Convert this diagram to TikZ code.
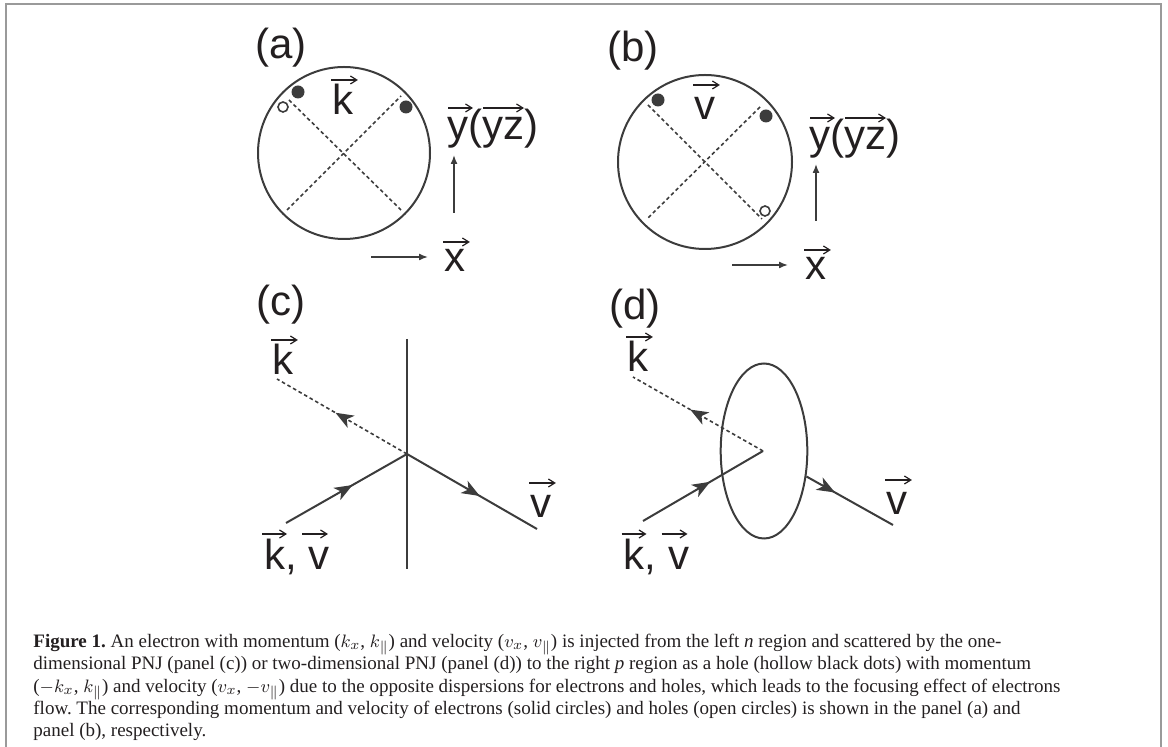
\documentclass[tikz,border=0pt]{standalone}
\usepackage{fontspec}
\setmainfont{Liberation Serif}
\setsansfont{Liberation Sans}
\usetikzlibrary{arrows.meta,decorations.markings,shapes.geometric}
\definecolor{lc}{HTML}{3C3C3C}
\definecolor{tc}{HTML}{231F20}
\definecolor{fc}{HTML}{9A9A9A}
\frenchspacing
\tikzset{
  line/.style={draw=lc, line width=1pt},
  dashline/.style={draw=lc, line width=0.8pt, dash pattern=on 1.8pt off 1.4pt},
  axis/.style={draw=lc, line width=0.75pt, -{Latex[length=4.5pt,width=3.5pt]}},
  vecarr/.style={draw=tc, line width=0.6pt, -{Straight Barb[length=3.2pt,width=4pt]}},
  midarrow/.style={postaction={decorate},decoration={markings, mark=at position #1 with {\arrow{Stealth[length=9pt,width=7pt,inset=2.5pt]}}}},
  lbl/.style={font=\sffamily\fontsize{21}{25}\selectfont, text=tc, inner sep=0pt},
  edot/.style={circle, fill=lc, inner sep=0pt, minimum size=6.5pt},
  hdot/.style={circle, draw=lc, line width=0.8pt, fill=white, inner sep=0pt, minimum size=5pt},
  frame/.style={draw=fc, line width=1pt},
}
\begin{document}
\begin{tikzpicture}[x=0.5pt,y=-0.5pt]
\useasboundingbox (0,0) rectangle (1168,747);
% frame
\coordinate (f1) at (6,747);
\coordinate (f2) at (6,4);
\coordinate (f3) at (1161,4);
\coordinate (f4) at (1161,747);
\draw[frame] (f1) -- (f2) -- (f3) -- (f4);

% ---------- panel (a)
\node[lbl] (pa) at (281,48) {(a)};
\node[circle, line, minimum size=86pt, inner sep=0pt] (ca) at (344,153) {};
\coordinate (a1) at (287,210);
\coordinate (a2) at (401,96);
\coordinate (a3) at (289,100);
\coordinate (a4) at (401,210);
\draw[dashline] (a1) -- (a2);
\draw[dashline] (a3) -- (a4);
\node[edot] (ad1) at (298,92) {};
\node[edot] (ad2) at (406,107) {};
\node[hdot] (ad3) at (283,107) {};
\node[lbl, anchor=base] (ak) at (343,115) {k};
\draw[vecarr] ([shift={(-1,-35)}]ak.base west) -- ([shift={(4,-35)}]ak.base east);
\node[lbl, anchor=base west] (ay) at (447,140) {y(yz)};
\draw[vecarr] ([shift={(1,-32)}]ay.base west) -- ([shift={(26,-32)}]ay.base west);
\draw[vecarr] ([shift={(36,-32)}]ay.base west) -- ([shift={(77,-32)}]ay.base west);
\node[lbl, anchor=base] (ax) at (455,272) {x};
\draw[vecarr] ([shift={(-1,-30)}]ax.base west) -- ([shift={(4,-30)}]ax.base east);
\coordinate (ay0) at (454,213);
\coordinate (ay1) at (454,155);
\coordinate (ax0) at (371,257);
\coordinate (ax1) at (428,257);
\draw[axis] (ay0) -- (ay1);
\draw[axis] (ax0) -- (ax1);

% ---------- panel (b)
\node[lbl] (pb) at (633,51) {(b)};
\node[circle, line, minimum size=87pt, inner sep=0pt] (cb) at (705,162) {};
\coordinate (b1) at (648,105);
\coordinate (b2) at (762,219);
\coordinate (b3) at (760,107);
\coordinate (b4) at (647,219);
\draw[dashline] (b1) -- (b2);
\draw[dashline] (b3) -- (b4);
\node[edot] (bd1) at (658,100) {};
\node[edot] (bd2) at (766,116) {};
\node[hdot] (bd3) at (765,211) {};
\node[lbl, anchor=base] (bv) at (705,120) {v};
\draw[vecarr] ([shift={(-1,-35)}]bv.base west) -- ([shift={(4,-35)}]bv.base east);
\node[lbl, anchor=base west] (by) at (809,150) {y(yz)};
\draw[vecarr] ([shift={(1,-32)}]by.base west) -- ([shift={(26,-32)}]by.base west);
\draw[vecarr] ([shift={(36,-32)}]by.base west) -- ([shift={(77,-32)}]by.base west);
\node[lbl, anchor=base] (bx) at (816,280) {x};
\draw[vecarr] ([shift={(-1,-30)}]bx.base west) -- ([shift={(4,-30)}]bx.base east);
\coordinate (by0) at (816,221);
\coordinate (by1) at (816,164);
\coordinate (bx0) at (732,265);
\coordinate (bx1) at (788,265);
\draw[axis] (by0) -- (by1);
\draw[axis] (bx0) -- (bx1);

% ---------- panel (c)
\node[lbl] (pc) at (281,305) {(c)};
\coordinate (c1) at (407,339);
\coordinate (c2) at (407,569);
\draw[line] (c1) -- (c2);
\coordinate (cj) at (407,454);
\coordinate (cin) at (286,523);
\coordinate (cout) at (537,529);
\coordinate (cref) at (277,379);
\draw[line, midarrow=0.55] (cin) -- (cj);
\draw[line, midarrow=0.56] (cj) -- (cout);
\draw[dashline, midarrow=0.55] (cj) -- (cref);
\node[lbl, anchor=base] (ck) at (283,375) {k};
\draw[vecarr] ([shift={(-1,-35)}]ck.base west) -- ([shift={(4,-35)}]ck.base east);
\node[lbl, anchor=base west] (ckv) at (264,570) {k, v};
\draw[vecarr] ([shift={(-2,-36)}]ckv.base west) -- ([shift={(23,-36)}]ckv.base west);
\draw[vecarr] ([shift={(38,-36)}]ckv.base west) -- ([shift={(64,-36)}]ckv.base west);
\node[lbl, anchor=base] (cv) at (541,518) {v};
\draw[vecarr] ([shift={(-1,-35)}]cv.base west) -- ([shift={(4,-35)}]cv.base east);

% ---------- panel (d)
\node[lbl] (pd) at (635,309) {(d)};
\node[ellipse, line, minimum width=43.3pt, minimum height=87.5pt, inner sep=0pt] (de) at (764,451) {};
\coordinate (dj) at (763,451);
\coordinate (din) at (643,521);
\coordinate (dout) at (893,525);
\coordinate (dref) at (633,377);
\draw[line, midarrow=0.56] (din) -- (dj);
\draw[dashline, midarrow=0.56] (dj) -- (dref);
\draw[line, midarrow=0.33] (de.-31) -- (dout);
\node[lbl, anchor=base] (dk) at (638,372) {k};
\draw[vecarr] ([shift={(-1,-35)}]dk.base west) -- ([shift={(4,-35)}]dk.base east);
\node[lbl, anchor=base west] (dkv) at (623.5,570) {k, v};
\draw[vecarr] ([shift={(-2,-36)}]dkv.base west) -- ([shift={(23,-36)}]dkv.base west);
\draw[vecarr] ([shift={(38,-36)}]dkv.base west) -- ([shift={(64,-36)}]dkv.base west);
\node[lbl, anchor=base] (dv) at (897,515) {v};
\draw[vecarr] ([shift={(-1,-35)}]dv.base west) -- ([shift={(4,-35)}]dv.base east);

% ---------- caption
\node[anchor=base west, align=left, inner sep=0pt, text=tc,
      font=\fontsize{9.5}{11.15}\selectfont] (cap) at (33,736.7) {%
\textbf{Figure 1.} An electron with momentum ($k_x$, $k_\parallel$) and velocity ($v_x$, $v_\parallel$) is injected from the left \textit{n} region and scattered by the one-\\
dimensional PNJ (panel (c)) or two-dimensional PNJ (panel (d)) to the right \textit{p} region as a hole (hollow black dots) with momentum\\
($-k_x$, $k_\parallel$) and velocity ($v_x$, $-v_\parallel$) due to the opposite dispersions for electrons and holes, which leads to the focusing effect of electrons\\
flow. The corresponding momentum and velocity of electrons (solid circles) and holes (open circles) is shown in the panel (a) and\\
panel (b), respectively.};
\end{tikzpicture}
\end{document}
